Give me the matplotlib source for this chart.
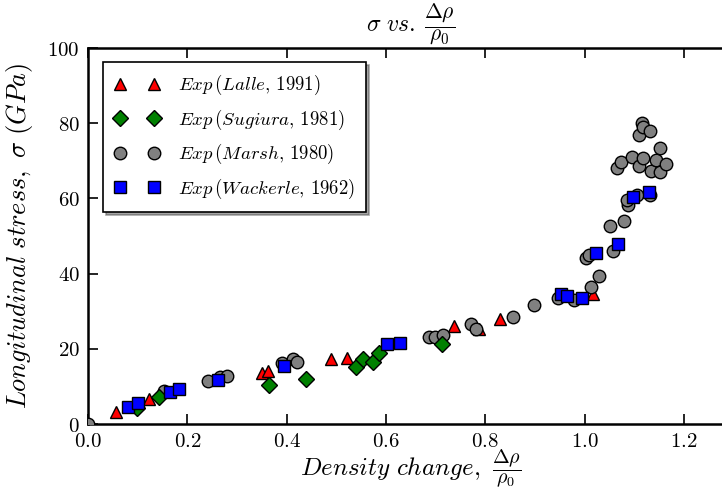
import matplotlib
matplotlib.use("Agg")
import matplotlib.pyplot as plt
from matplotlib.ticker import FuncFormatter, MultipleLocator
from matplotlib.offsetbox import TextArea, HPacker, AnchoredOffsetbox

plt.rcParams['mathtext.fontset'] = 'cm'
plt.rcParams['font.family'] = 'serif'
plt.rcParams['font.serif'] = ['DejaVu Serif']

# Lalle (1991)
lalle_x = [0.057, 0.123, 0.350, 0.362, 0.490, 0.522, 0.737, 0.788, 0.830, 1.017]
lalle_y = [3.2, 6.6, 13.5, 14.0, 17.2, 17.6, 26.0, 25.3, 28.0, 34.5]

# Sugiura (1981)
sugiura_x = [0.099, 0.143, 0.365, 0.440, 0.540, 0.553, 0.575, 0.587, 0.713]
sugiura_y = [4.2, 7.2, 10.4, 12.0, 15.2, 17.3, 16.6, 18.8, 21.3]

# Marsh (1980)
marsh_x = [0.000, 0.153, 0.242, 0.266, 0.280, 0.390, 0.413, 0.420,
           0.687, 0.699, 0.715, 0.771, 0.782, 0.856, 0.898,
           0.947, 0.978, 1.013, 1.030, 1.003, 1.010, 1.051, 1.080, 1.057,
           1.088, 1.086, 1.105, 1.132,
           1.066, 1.074, 1.095, 1.110, 1.118, 1.134, 1.144, 1.152, 1.152, 1.164,
           1.110, 1.116, 1.118, 1.132]
marsh_y = [0.0, 8.8, 11.4, 12.5, 12.8, 16.2, 17.3, 16.5,
           23.2, 23.1, 23.7, 26.6, 25.3, 28.5, 31.6,
           33.5, 33.0, 36.5, 39.4, 44.1, 45.0, 52.7, 54.0, 46.0,
           58.2, 59.6, 60.9, 60.9,
           68.0, 69.7, 71.0, 68.6, 70.7, 67.3, 70.2, 67.0, 73.4, 69.1,
           76.9, 80.0, 79.0, 78.0]

# Wackerle (1962)
wackerle_x = [0.081, 0.101, 0.165, 0.184, 0.262, 0.395, 0.602, 0.628,
              0.952, 0.965, 0.995, 1.023, 1.067, 1.098, 1.130]
wackerle_y = [4.5, 5.6, 8.5, 9.3, 11.7, 15.4, 21.3, 21.5,
              34.6, 34.0, 33.5, 45.5, 47.9, 60.5, 61.8]

fig = plt.figure(figsize=(7.22, 4.93), dpi=100)
ax = fig.add_axes([88 / 722, 1 - 424 / 493, (1.3 * 496.5) / 722, (424 - 48) / 493])

common = dict(linestyle='none', markeredgecolor='black', markeredgewidth=1.0)
ax.plot(lalle_x, lalle_y, marker='^', color='red', markersize=9,
        label=r'$Exp\,(Lalle,\,1991)$', zorder=3, **common)
ax.plot(sugiura_x, sugiura_y, marker='D', color='green', markersize=8,
        label=r'$Exp\,(Sugiura,\,1981)$', zorder=5, **common)
ax.plot(marsh_x, marsh_y, marker='o', color='gray', markersize=9,
        label=r'$Exp\,(Marsh,\,1980)$', zorder=4, **common)
ax.plot(wackerle_x, wackerle_y, marker='s', color='blue', markersize=8.5,
        label=r'$Exp\,(Wackerle,\,1962)$', zorder=6, **common)

ax.set_xlim(0, 1.3)
ax.set_ylim(0, 100)
ax.xaxis.set_major_locator(MultipleLocator(0.2))
ax.yaxis.set_major_locator(MultipleLocator(20))
ax.xaxis.set_major_formatter(FuncFormatter(lambda v, p: r'$%.1f$' % v))
ax.yaxis.set_major_formatter(FuncFormatter(lambda v, p: r'$%d$' % round(v)))
ax.tick_params(direction='in', top=True, right=True, length=7, width=1.2,
               labelsize=15, pad=6)
for s in ax.spines.values():
    s.set_linewidth(1.8)

ax.set_ylabel(r'$Longitudinal\ stress,\ \sigma\ (GPa)$', fontsize=19, labelpad=9)


def label_with_fraction(main, main_size, frac_size, gap):
    """Text followed by a fraction set at its own size, aligned on the baseline."""
    parts = [TextArea(main, textprops=dict(fontsize=main_size)),
             TextArea(r'$\dfrac{\Delta\rho}{\rho_0}$', textprops=dict(fontsize=frac_size))]
    return HPacker(children=parts, align='baseline', pad=0, sep=gap)


title_box = AnchoredOffsetbox(loc='lower center',
                              child=label_with_fraction(r'$\sigma\ vs.$', 17, 15.5, 6),
                              pad=0, borderpad=0, frameon=False,
                              bbox_to_anchor=(0.5, 1.003), bbox_transform=ax.transAxes)
ax.add_artist(title_box)

xlabel_box = AnchoredOffsetbox(loc='upper center',
                               child=label_with_fraction(r'$Density\ change,$', 18, 14.5, 8),
                               pad=0, borderpad=0, frameon=False,
                               bbox_to_anchor=(0.5, -0.062), bbox_transform=ax.transAxes)
ax.add_artist(xlabel_box)

leg = ax.legend(loc='upper left', numpoints=2, fancybox=False, shadow=True,
                fontsize=13.5, borderpad=0.6, labelspacing=0.55,
                handlelength=2.4, handletextpad=1.0, borderaxespad=0.0,
                bbox_to_anchor=(15 / 645.45, 1 - 14 / 376))
leg.get_frame().set_edgecolor('black')
leg.get_frame().set_linewidth(1.2)

fig.savefig('out.png', dpi=100)
